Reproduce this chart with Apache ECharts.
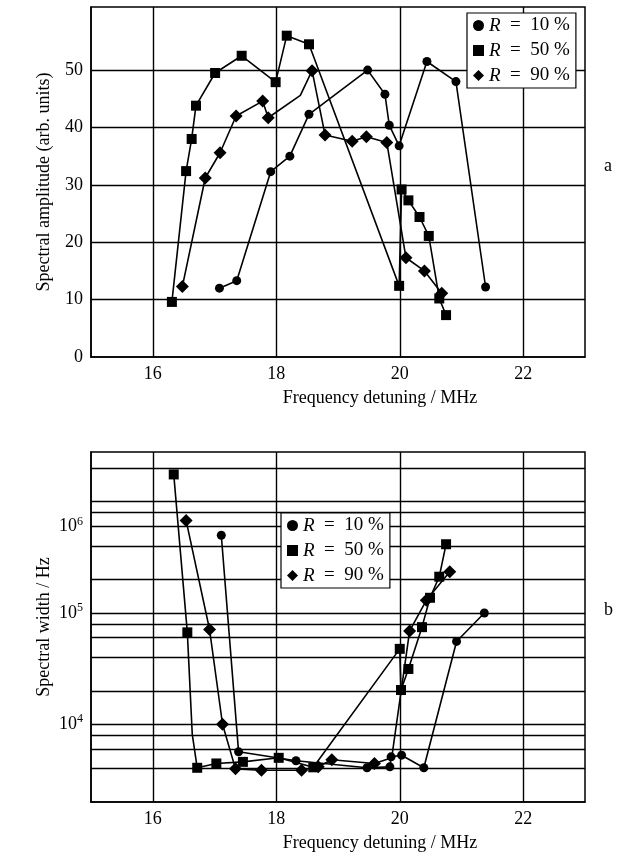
<!DOCTYPE html>
<html>
<head>
<meta charset="utf-8">
<script src="https://cdn.jsdelivr.net/npm/echarts@6/dist/echarts.min.js"></script>
<style>
    html, body { margin: 0; padding: 0; background: #fff; }
    #chart { width: 619px; height: 856px; }
</style>
</head>
<body>
<div id="chart"></div>
<script>
// panel a: spectral amplitude vs detuning, [MHz, arb. units]
var ampR10 = [[17.08, 12.0], [17.36, 13.3], [17.91, 32.3], [18.22, 35.0], [18.53, 42.3], [19.48, 50.0],
    [19.76, 45.8], [19.83, 40.4], [19.99, 36.8], [20.44, 51.5], [20.91, 48.0], [21.39, 12.2]];
var ampR50 = [[16.31, 9.6], [16.54, 32.4], [16.63, 38.0], [16.70, 43.8], [17.01, 49.5], [17.44, 52.5],
    [17.99, 47.9], [18.17, 56.0], [18.53, 54.5], [19.99, 12.4], [20.03, 29.2], [20.14, 27.3],
    [20.32, 24.4], [20.47, 21.1], [20.64, 10.2], [20.75, 7.3]];
var ampR90 = [[16.48, 12.3], [16.85, 31.2], [17.09, 35.6], [17.35, 42.0], [17.78, 44.6], [17.87, 41.7],
    [18.39, 45.6], [18.58, 49.9], [18.79, 38.7], [19.23, 37.6], [19.46, 38.4], [19.79, 37.4],
    [20.10, 17.3], [20.40, 15.0], [20.68, 11.1]];

// panel b: spectral width vs detuning, [MHz, Hz]
var widR10 = [[17.11, 5.0e5], [17.39, 5650], [18.32, 4700], [19.47, 4060], [19.84, 4140], [19.86, 5090],
    [20.03, 5270], [20.39, 4060], [20.92, 5.55e4], [21.37, 1.0e5]];
var widR50 = [[16.34, 1.76e6], [16.56, 6.7e4], [16.64, 8.1e3], [16.72, 4060], [17.03, 4440], [17.46, 4590],
    [18.04, 4990], [18.60, 4100], [20.0, 4.76e4], [20.02, 2.03e4], [20.14, 3.14e4], [20.36, 7.46e4],
    [20.49, 1.37e5], [20.64, 2.12e5], [20.75, 4.15e5]];
var widR90 = [[16.54, 6.8e5], [16.92, 7.1e4], [17.13, 1.0e4], [17.34, 3970], [17.76, 3860], [18.41, 3860],
    [18.68, 4150], [18.90, 4800], [19.59, 4440], [19.87, 5000], [20.16, 6.9e4], [20.43, 1.3e5],
    [20.81, 2.35e5]];

// vertices drawn without a marker in the original
var ampR90Bare = [6];
var widR50Bare = [2];
var widR90Bare = [9];

var reflectivity = ['10', '50', '90'];
var xGrid = [16, 18, 20, 22];
var ampGrid = [10, 20, 30, 40, 50];
var widGrid = [4e3, 6e3, 8e3, 1e4, 2e4, 4e4, 6e4, 8e4, 1e5, 2e5, 4e5, 6e5, 8e5, 1e6, 2e6];
var widLabelAt = [1e4, 1e5, 6e5];
var widLabelPow = ['4', '5', '6'];

var serif = '"Liberation Serif", "DejaVu Serif", serif';

var myChart = echarts.init(document.getElementById('chart'));

function pts(list, bare) {
    return list.map(function (p, i) {
        return bare && bare.indexOf(i) >= 0 ? { value: p, symbol: 'none' } : p;
    });
}

function gridLines(xs, ys, labelled) {
    var d = xs.map(function (v) { return { xAxis: v }; });
    ys.forEach(function (v) {
        var k = labelled ? labelled.at.indexOf(v) : -1;
        var item = { yAxis: v };
        if (k >= 0) {
            item.label = { show: true, formatter: '10{s|' + labelled.pow[k] + '}' };
        }
        d.push(item);
    });
    return {
        silent: true,
        symbol: ['none', 'none'],
        lineStyle: { color: '#000', width: 1.4, type: 'solid' },
        label: {
            show: false,
            position: 'start',
            distance: 8,
            color: '#000',
            fontFamily: serif,
            fontSize: 18,
            rich: {
                s: { fontSize: 12, fontFamily: serif, color: '#000', verticalAlign: 'top', padding: [0, 0, 10, 0] }
            }
        },
        emphasis: { disabled: true },
        data: d
    };
}

var shapes = [['circle', 9], ['rect', 10], ['diamond', 13]];

function makeSeries(prefix, lists, bares, axis, mark) {
    return lists.map(function (list, i) {
        var s = {
            name: prefix + reflectivity[i],
            type: 'line',
            xAxisIndex: axis,
            yAxisIndex: axis,
            symbol: shapes[i][0],
            symbolSize: shapes[i][1],
            showSymbol: true,
            itemStyle: { color: '#000' },
            lineStyle: { color: '#000', width: 1.6 },
            emphasis: { disabled: true },
            data: pts(list, bares[i])
        };
        if (i === 0) s.markLine = mark;
        return s;
    });
}

function legendFor(prefix, left, top) {
    return {
        orient: 'vertical',
        left: left,
        top: top,
        padding: [3, 6, 3, 6],
        itemGap: 6,
        itemWidth: 11,
        itemHeight: 11,
        backgroundColor: '#fff',
        borderColor: '#000',
        borderWidth: 1.2,
        z: 10,
        selectedMode: false,
        data: reflectivity.map(function (r, i) {
            return { name: prefix + r, icon: shapes[i][0] };
        }),
        formatter: function (name) {
            return '{i|R}  =  ' + name.slice(1) + ' %';
        },
        textStyle: {
            color: '#000',
            fontFamily: serif,
            fontSize: 19,
            rich: { i: { fontStyle: 'italic', fontFamily: serif, fontSize: 19, color: '#000' } }
        }
    };
}

function xAxisFor(idx) {
    return {
        gridIndex: idx,
        type: 'value',
        min: 15,
        max: 23,
        interval: 1,
        name: 'Frequency detuning / MHz',
        nameLocation: 'middle',
        nameGap: 32,
        nameTextStyle: { color: '#000', fontFamily: serif, fontSize: 18, padding: [0, 0, 0, 84] },
        axisLine: { lineStyle: { color: '#000', width: 1.5 } },
        axisTick: { show: false },
        splitLine: { show: false },
        axisLabel: {
            color: '#000', fontFamily: serif, fontSize: 18, margin: 8,
            formatter: function (v) { return v % 2 === 0 ? String(v) : ''; }
        }
    };
}

var option = {
    animation: false,
    backgroundColor: '#fff',
    title: [
        { text: 'a', left: 599, top: 152, textStyle: { fontFamily: serif, fontSize: 18, fontWeight: 'normal', color: '#000' } },
        { text: 'b', left: 599, top: 596, textStyle: { fontFamily: serif, fontSize: 18, fontWeight: 'normal', color: '#000' } }
    ],
    grid: [
        { left: 91, top: 7, width: 494, height: 350, show: true, borderColor: '#000', borderWidth: 1.5 },
        { left: 91, top: 452, width: 494, height: 350, show: true, borderColor: '#000', borderWidth: 1.5 }
    ],
    legend: [legendFor('a', 467, 13), legendFor('b', 281, 513)],
    xAxis: [xAxisFor(0), xAxisFor(1)],
    yAxis: [
        {
            gridIndex: 0,
            type: 'value',
            min: 0,
            max: 61,
            interval: 10,
            name: 'Spectral amplitude (arb. units)',
            nameLocation: 'middle',
            nameGap: 38,
            nameTextStyle: { color: '#000', fontFamily: serif, fontSize: 18 },
            axisLine: { show: true, lineStyle: { color: '#000', width: 1.5 } },
            axisTick: { show: false },
            splitLine: { show: false },
            axisLabel: {
                color: '#000', fontFamily: serif, fontSize: 18, margin: 8,
                formatter: function (v) { return v <= 50 ? String(v) : ''; }
            }
        },
        {
            gridIndex: 1,
            type: 'log',
            logBase: 10,
            min: 2000,
            max: 2.8e6,
            name: 'Spectral width / Hz',
            nameLocation: 'middle',
            nameGap: 38,
            nameTextStyle: { color: '#000', fontFamily: serif, fontSize: 18 },
            axisLine: { show: true, lineStyle: { color: '#000', width: 1.5 } },
            axisTick: { show: false },
            splitLine: { show: false },
            axisLabel: { show: false }
        }
    ],
    series: makeSeries('a', [ampR10, ampR50, ampR90], [null, null, ampR90Bare], 0,
            gridLines(xGrid, ampGrid))
        .concat(makeSeries('b', [widR10, widR50, widR90], [null, widR50Bare, widR90Bare], 1,
            gridLines(xGrid, widGrid, { at: widLabelAt, pow: widLabelPow })))
};

myChart.setOption(option);
window.addEventListener('resize', function () {
    myChart.resize();
});
</script>
</body>
</html>
